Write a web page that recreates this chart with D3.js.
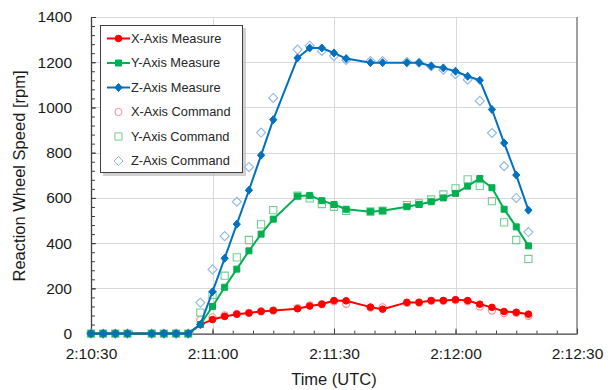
<!DOCTYPE html>
<html>
<head>
<meta charset="utf-8">
<script src="https://cdn.jsdelivr.net/npm/d3@7"></script>
<style>
  html, body { margin: 0; padding: 0; background: #fff; }
  svg { display: block; font-family: "Liberation Sans", Arial, sans-serif; }
</style>
</head>
<body>
<svg id="chart" width="616" height="390"></svg>
<script>
// Sample times (UTC) of reaction wheel telemetry
const times = ["2:10:30","2:10:33","2:10:36","2:10:39","2:10:45","2:10:48","2:10:51","2:10:54",
  "2:10:57","2:11:00","2:11:03","2:11:06","2:11:09","2:11:12","2:11:15","2:11:21","2:11:24",
  "2:11:27","2:11:30","2:11:33","2:11:39","2:11:42","2:11:48","2:11:51","2:11:54","2:11:57",
  "2:12:00","2:12:03","2:12:06","2:12:09","2:12:12","2:12:15","2:12:18"];

// Wheel speed [rpm], measured
const xMeasure = [0,0,0,0,0,0,0,0, 40,62,76,86,91,98,102,110,122,130,146,145,117,108,138,138,146,146,150,146,130,116,98,94,86];
const yMeasure = [0,0,0,0,0,0,0,0, 40,120,205,285,366,440,506,608,611,588,571,550,539,543,561,571,583,600,620,652,686,645,550,472,388];
const zMeasure = [0,0,0,0,0,0,0,0, 40,185,333,484,634,789,946,1219,1263,1263,1241,1216,1198,1198,1198,1198,1183,1175,1160,1138,1120,991,843,701,546];

// Wheel speed [rpm], commanded
const xCommand = [0,0,0,0,0,0,0,0, 60,72,80,87,92,99,103,113,125,130,143,132,115,116,136,137,145,145,148,143,120,102,91,92,79];
const yCommand = [0,0,0,0,0,0,0,0, 93,171,256,337,414,483,546,610,598,573,561,543,540,544,568,576,593,615,642,682,653,586,492,414,330];
const zCommand = [0,0,0,0,0,0,0,0, 137,284,431,583,737,889,1042,1256,1273,1250,1227,1210,1205,1205,1201,1198,1182,1167,1147,1123,1029,887,740,600,449];

// Axis ticks
const xTickLabels = ["2:10:30","2:11:00","2:11:30","2:12:00","2:12:30"];
const yTickValues = [0,200,400,600,800,1000,1200,1400];

const parse = d3.timeParse("%H:%M:%S");
const fmt = d3.timeFormat("%-H:%M:%S");
const T = times.map(parse);

const svg = d3.select("#chart");
const plotLeft = 91, plotRight = 577, plotTop = 17, plotBottom = 333.6;

const x = d3.scaleTime()
  .domain([parse(xTickLabels[0]), parse(xTickLabels[xTickLabels.length - 1])])
  .range([plotLeft, plotRight]);
const y = d3.scaleLinear().domain([0, 1400]).range([plotBottom, plotTop]);

// Gridlines
const grid = svg.append("g").attr("stroke", "#d9d9d9").attr("stroke-width", 1);
yTickValues.filter(v => v > 0).forEach(v => {
  grid.append("line").attr("x1", plotLeft).attr("x2", plotRight)
    .attr("y1", Math.round(y(v)) + 0.5).attr("y2", Math.round(y(v)) + 0.5);
});
xTickLabels.slice(1, -1).forEach(s => {
  const xx = Math.round(x(parse(s))) + 0.5;
  grid.append("line").attr("x1", xx).attr("x2", xx).attr("y1", plotTop).attr("y2", plotBottom);
});

// Right frame
svg.append("line").attr("x1", plotRight).attr("x2", plotRight).attr("y1", plotTop).attr("y2", plotBottom)
  .attr("stroke", "#7f7f7f").attr("stroke-width", 1.5);

// Minor ticks
const yMinor = d3.range(0, 1401, 40);
svg.append("g").attr("transform", `translate(${plotLeft},0)`)
  .call(d3.axisLeft(y).tickValues(yMinor).tickSize(-4).tickSizeOuter(0).tickFormat(""))
  .call(g => g.select(".domain").remove())
  .selectAll("line").attr("stroke", "#404040");

const xMinor = d3.range(0, 121, 5).map(s => new Date(parse(xTickLabels[0]).getTime() + s * 1000));
svg.append("g").attr("transform", `translate(0,${plotBottom})`)
  .call(d3.axisBottom(x).tickValues(xMinor).tickSize(-3).tickSizeOuter(0).tickFormat(""))
  .call(g => g.select(".domain").remove())
  .selectAll("line").attr("stroke", "#404040");

// Main axes
const yAxis = svg.append("g").attr("transform", `translate(${plotLeft},0)`)
  .call(d3.axisLeft(y).tickValues(yTickValues).tickFormat(d3.format("d"))
    .tickSize(-5).tickSizeOuter(0).tickPadding(19));
const xAxis = svg.append("g").attr("transform", `translate(0,${plotBottom})`)
  .call(d3.axisBottom(x).tickValues(xTickLabels.map(parse)).tickFormat(fmt)
    .tickSize(-5).tickSizeOuter(0).tickPadding(14));
[yAxis, xAxis].forEach(a => {
  a.select(".domain").attr("stroke", "#404040").attr("stroke-width", 1.3);
  a.selectAll(".tick line").attr("stroke", "#404040");
  a.selectAll("text").attr("font-size", 15.5).attr("fill", "#1a1a1a")
    .attr("font-family", "'Liberation Sans', Arial, sans-serif");
});

// Axis titles
svg.append("text").attr("x", 334).attr("y", 385).attr("text-anchor", "middle")
  .attr("font-size", 16.5).attr("fill", "#1a1a1a").text("Time (UTC)");
svg.append("text").attr("transform", "translate(25,176) rotate(-90)")
  .attr("text-anchor", "middle").attr("font-size", 16.5).attr("fill", "#1a1a1a")
  .text("Reaction Wheel Speed [rpm]");

// Marker paths
const circlePath = r => `M${-r},0A${r},${r} 0 1,0 ${r},0A${r},${r} 0 1,0 ${-r},0Z`;
const squarePath = h => `M${-h},${-h}H${h}V${h}H${-h}Z`;
const diamondPath = (w, h) => `M0,${-h}L${w},0L0,${h}L${-w},0Z`;

const series = [
  { name: "X-Axis Measure", vals: xMeasure, color: "#ff0000", line: true, mark: circlePath(3.3), fill: true },
  { name: "Y-Axis Measure", vals: yMeasure, color: "#00b050", line: true, mark: squarePath(3), fill: true },
  { name: "Z-Axis Measure", vals: zMeasure, color: "#0070c0", line: true, mark: diamondPath(3.6, 4), fill: true },
  { name: "X-Axis Command", vals: xCommand, color: "#ff8c8c", line: false, mark: circlePath(3.6), fill: false },
  { name: "Y-Axis Command", vals: yCommand, color: "#6fcf92", line: false, mark: squarePath(3.6), fill: false },
  { name: "Z-Axis Command", vals: zCommand, color: "#8db8e6", line: false, mark: diamondPath(4.5, 4.5), fill: false }
];

const lineGen = d3.line().x((d, i) => x(T[i])).y(d => y(d));

// Commands drawn beneath the measured series
const drawOrder = [3, 4, 5, 0, 1, 2];
drawOrder.forEach(k => {
  const s = series[k];
  const g = svg.append("g");
  if (s.line) {
    g.append("path").attr("d", lineGen(s.vals)).attr("fill", "none")
      .attr("stroke", s.color).attr("stroke-width", 2).attr("stroke-linejoin", "round");
  }
  g.selectAll("path.m").data(s.vals).join("path").attr("class", "m")
    .attr("d", s.mark)
    .attr("transform", (d, i) => `translate(${x(T[i])},${y(d)})`)
    .attr("fill", s.fill ? s.color : "none")
    .attr("stroke", s.color).attr("stroke-width", s.fill ? 1 : 1.1);
});

// Legend
const lg = svg.append("g");
lg.append("rect").attr("x", 103).attr("y", 28).attr("width", 143).attr("height", 148)
  .attr("fill", "#b3b3b3").attr("opacity", 0.6);
lg.append("rect").attr("x", 100.5).attr("y", 25.5).attr("width", 142).attr("height", 147)
  .attr("fill", "#fff").attr("stroke", "#404040").attr("stroke-width", 1);
series.forEach((s, i) => {
  const yy = 38.5 + i * 24.5;
  if (s.line) {
    lg.append("line").attr("x1", 107).attr("x2", 130).attr("y1", yy).attr("y2", yy)
      .attr("stroke", s.color).attr("stroke-width", 2);
  }
  lg.append("path").attr("d", s.mark).attr("transform", `translate(118.5,${yy})`)
    .attr("fill", s.fill ? s.color : "none").attr("stroke", s.color).attr("stroke-width", 1);
  lg.append("text").attr("x", 131).attr("y", yy).attr("dy", "0.35em")
    .attr("font-size", 12.8).attr("fill", "#262626").text(s.name);
});
</script>
</body>
</html>
